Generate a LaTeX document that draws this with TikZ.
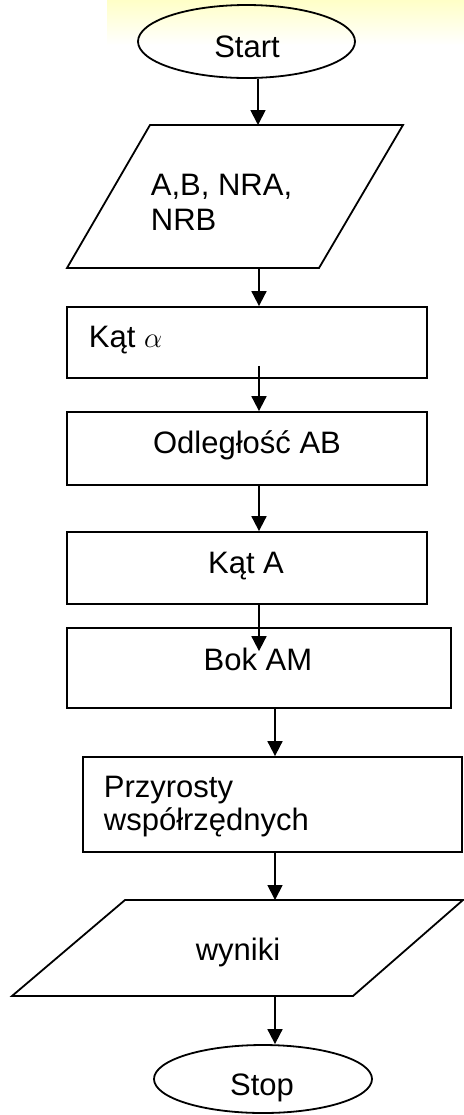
\documentclass[tikz,border=0pt]{standalone}
\usepackage{fontspec}
\setmainfont{Liberation Sans}
\usetikzlibrary{shapes.geometric,arrows.meta,calc}
\begin{document}
\begin{tikzpicture}[x=0.5pt,y=-0.5pt,
  line width=0.9pt,
  txt/.style={inner sep=0pt,font=\fontsize{15.5pt}{17.5pt}\selectfont},
  term/.style={draw,ellipse,inner sep=0pt},
  procbox/.style={draw,rectangle,inner sep=0pt},
  arr/.style={-{Triangle[length=7.5pt,width=7.5pt]}}]
\useasboundingbox (0,0) rectangle (464,1115);
\shade[top color=yellow!22,bottom color=white] (107,0) rectangle (464,45);
% columns for connectors
\coordinate (c0) at (258,0);
\coordinate (c1) at (259,0);
\coordinate (c2) at (275,0);
% Start
\node[term,minimum width=108.5pt,minimum height=36.5pt] (start) at (246.5,41.5) {};
\node[txt,anchor=base] (tstart) at (247,57) {Start};
% input parallelogram
\draw (150,125) -- (403,125) -- (319,268) -- (67,268) -- cycle;
\coordinate (p1n) at (258,125);
\coordinate (p1s) at (259,268);
\node[txt,anchor=base west,align=left,font=\fontsize{15.5pt}{17.5pt}\selectfont] (tin) at (150,230) {A,B, NRA,\\NRB};
% boxes
\node[procbox,minimum width=180pt,minimum height=35.5pt] (b1) at (247,342.5) {};
\node[txt,anchor=base west] (t1) at (88,347) {Kąt $\alpha$};
\node[procbox,minimum width=180pt,minimum height=36.5pt] (b2) at (247,448.5) {};
\node[txt,anchor=base] (t2) at (247,453) {Odległość AB};
\node[procbox,minimum width=180pt,minimum height=36pt] (b3) at (247,568) {};
\node[txt,anchor=base] (t3) at (246,573) {Kąt A};
\node[procbox,minimum width=192pt,minimum height=40pt] (b4) at (259,668) {};
\node[txt,anchor=base] (t4) at (258,670) {Bok AM};
\node[procbox,minimum width=189.5pt,minimum height=47.5pt] (b5) at (272.5,804.5) {};
\node[txt,anchor=base west,align=left,font=\fontsize{15.5pt}{16.5pt}\selectfont] (t5) at (103,830) {Przyrosty\\współrzędnych};
% output parallelogram
\draw (125,900) -- (463,900) -- (353,996) -- (12,996) -- cycle;
\coordinate (p2n) at (275,900);
\coordinate (p2s) at (275,996);
\node[txt,anchor=base] (tout) at (238,960) {wyniki};
% Stop
\node[term,minimum width=109pt,minimum height=34pt] (stop) at (263,1079) {};
\node[txt,anchor=base] (tstop) at (262,1095) {Stop};
% connectors
\draw[arr] (start.south -| c0) -- (p1n);
\draw[arr] (p1s) -- (b1.north -| c1);
\draw[arr] ($(b1.south -| c1)+(0,-13)$) -- (b2.north -| c1);
\draw[arr] (b2.south -| c1) -- (b3.north -| c1);
\draw[arr] (b3.south -| c1) -- ($(b4.north -| c1)+(0,24)$);
\draw[arr] (b4.south -| c2) -- (b5.north -| c2);
\draw[arr] (b5.south -| c2) -- (p2n);
\draw[arr] (p2s) -- (stop.north -| c2);
\end{tikzpicture}
\end{document}
